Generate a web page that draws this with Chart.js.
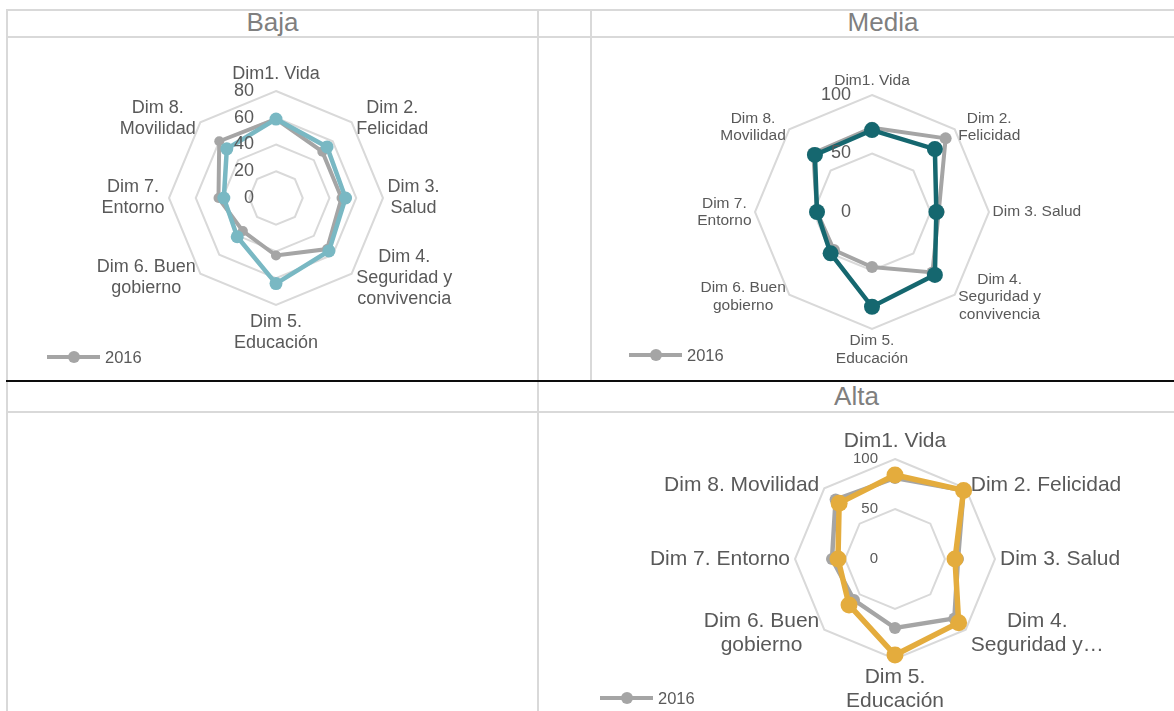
<!DOCTYPE html>
<html>
<head>
<meta charset="utf-8">
<script src="https://cdn.jsdelivr.net/npm/chart.js@4"></script>
<style>
  html, body { margin: 0; padding: 0; background: #fff; }
  body { width: 1174px; height: 711px; position: relative; overflow: hidden; font-family: "Liberation Sans", Arial, sans-serif; }
  .hl, .vl { position: absolute; background: #d9d9d9; }
  .hl { height: 2px; }
  .vl { width: 2px; }
  .black { position: absolute; height: 2px; background: #0d0d0d; }
  .head { position: absolute; text-align: center; font-size: 26px; line-height: 27px; color: #7f7f7f; }
  canvas { position: absolute; }
  .legend { position: absolute; height: 20px; display: flex; align-items: center; font-size: 16.5px; color: #595959; }
  .legend .mk { position: relative; width: 53px; height: 4px; background: #a5a5a5; margin-right: 5px; }
  .legend .mk::after { content: ""; position: absolute; left: 21px; top: -4px; width: 12px; height: 12px; border-radius: 50%; background: #a5a5a5; }
</style>
</head>
<body>
  <!-- table lines -->
  <div class="hl" style="left:6px;top:9px;width:1168px"></div>
  <div class="hl" style="left:6px;top:36px;width:1168px"></div>
  <div class="vl" style="left:6px;top:9px;height:702px"></div>
  <div class="vl" style="left:537px;top:9px;height:702px"></div>
  <div class="vl" style="left:590px;top:9px;height:372px"></div>
  <div class="black" style="left:6px;top:380px;width:1168px"></div>
  <div class="hl" style="left:6px;top:411px;width:1168px"></div>

  <div class="head" style="left:8px;top:9px;width:529px">Baja</div>
  <div class="head" style="left:592px;top:9px;width:582px">Media</div>
  <div class="head" style="left:539px;top:383px;width:635px">Alta</div>

  <canvas id="cBaja" width="528" height="340" style="left:8px;top:39px"></canvas>
  <canvas id="cMedia" width="581" height="340" style="left:593px;top:39px"></canvas>
  <canvas id="cAlta" width="634" height="297" style="left:540px;top:414px"></canvas>

  <div class="legend" style="left:47px;top:347px"><span class="mk"></span>2016</div>
  <div class="legend" style="left:629px;top:345px"><span class="mk"></span>2016</div>
  <div class="legend" style="left:600px;top:688px"><span class="mk"></span>2016</div>

<script>
const categories = ["Dim1. Vida", "Dim 2. Felicidad", "Dim 3. Salud", "Dim 4. Seguridad y convivencia",
  "Dim 5. Educación", "Dim 6. Buen gobierno", "Dim 7. Entorno", "Dim 8. Movilidad"];

// how each panel wraps the category names
const bajaLabels = [["Dim1. Vida"], ["Dim 2.", "Felicidad"], ["Dim 3.", "Salud"], ["Dim 4.", "Seguridad y", "convivencia"],
  ["Dim 5.", "Educación"], ["Dim 6. Buen", "gobierno"], ["Dim 7.", "Entorno"], ["Dim 8.", "Movilidad"]];
const mediaLabels = [["Dim1. Vida"], ["Dim 2.", "Felicidad"], ["Dim 3. Salud"], ["Dim 4.", "Seguridad y", "convivencia"],
  ["Dim 5.", "Educación"], ["Dim 6. Buen", "gobierno"], ["Dim 7.", "Entorno"], ["Dim 8.", "Movilidad"]];
const altaLabels = [["Dim1. Vida"], ["Dim 2. Felicidad"], ["Dim 3. Salud"], ["Dim 4.", "Seguridad y…"],
  ["Dim 5.", "Educación"], ["Dim 6. Buen", "gobierno"], ["Dim 7. Entorno"], ["Dim 8. Movilidad"]];

const baja2016 = [59, 49, 49, 54, 43, 35, 43, 60];
const bajaNow = [59, 54, 52, 56, 64, 41, 39, 52];
const media2016 = [72, 89, 57, 73, 47, 46, 47, 71];
const mediaNow = [70, 76, 55, 76, 81, 50, 47, 69];
const alta2016 = [81, 97, 63, 84, 69, 58, 63, 84];
const altaNow = [84, 97, 60, 90, 96, 65, 57, 79];

const bajaTicks = { max: 80, step: 20 };
const mediaTicks = { max: 100, step: 50 };
const altaTicks = { max: 100, step: 50 };

const gray = "#a5a5a5";
const textColor = "#595959";
const fontFamily = "'Liberation Sans', Arial, sans-serif";

// excel-style axis and category labels, placed with the scale's own geometry
const excelLabels = {
  id: "excelLabels",
  afterDatasetsDraw(chart, args, o) {
    const sc = chart.scales.r;
    const ctx = chart.ctx;
    ctx.save();
    ctx.fillStyle = textColor;
    ctx.textBaseline = "middle";

    ctx.font = o.tickSize + "px " + fontFamily;
    ctx.textAlign = "right";
    sc.ticks.forEach((t) => {
      const d = sc.getDistanceFromCenterForValue(t.value);
      ctx.fillText(t.label, sc.xCenter - o.tickGap, sc.yCenter - d);
    });

    ctx.font = o.size + "px " + fontFamily;
    ctx.textAlign = "center";
    o.lines.forEach((lines, i) => {
      const p = sc.getPointPosition(i, sc.drawingArea);
      const w = Math.max(...lines.map((s) => ctx.measureText(s).width));
      const h = lines.length * o.lh;
      let cx, top;
      if (i === 0) {
        cx = p.x; top = p.y - o.padTop - h;
      } else if (i === 4) {
        cx = p.x; top = p.y + o.padBottom;
      } else {
        cx = i < 4 ? p.x + o.padSide + w / 2 : p.x - o.padSide - w / 2;
        let dy = 0;
        if (i === 1 || i === 7) dy = -o.shift;
        if (i === 3 || i === 5) dy = o.shift;
        top = p.y - h / 2 + dy;
      }
      lines.forEach((s, k) => ctx.fillText(s, cx, top + o.lh * (k + 0.5)));
    });
    ctx.restore();
  }
};

function makeRadar(id, past, now, ticks, look) {
  return new Chart(document.getElementById(id), {
    type: "radar",
    data: {
      labels: categories,
      datasets: [
        {
          label: "",
          data: now,
          borderColor: look.color,
          backgroundColor: look.color,
          pointBackgroundColor: look.color,
          pointBorderColor: look.color,
          borderWidth: look.lw,
          pointRadius: look.pr,
          pointBorderWidth: 0,
          fill: false
        },
        {
          label: "2016",
          data: past,
          borderColor: gray,
          backgroundColor: gray,
          pointBackgroundColor: gray,
          pointBorderColor: gray,
          borderWidth: look.grayLw,
          pointRadius: look.grayPr,
          pointBorderWidth: 0,
          fill: false
        }
      ]
    },
    options: {
      responsive: false,
      animation: false,
      plugins: {
        legend: { display: false },
        tooltip: { enabled: false },
        excelLabels: look.labels
      },
      scales: {
        r: {
          min: 0,
          max: ticks.max,
          ticks: { stepSize: ticks.step, display: false },
          grid: { color: "#d9d9d9", lineWidth: 2 },
          angleLines: { display: false },
          pointLabels: { display: false },
          afterFit(s) {
            s.xCenter = look.cx;
            s.yCenter = look.cy;
            s.drawingArea = look.r;
          }
        }
      }
    },
    plugins: [excelLabels]
  });
}

makeRadar("cBaja", baja2016, bajaNow, bajaTicks, {
  color: "#79b8c3", lw: 4.5, pr: 6.5, grayLw: 4, grayPr: 5,
  cx: 268, cy: 159, r: 107,
  labels: { lines: bajaLabels, size: 18, lh: 21, padTop: 6.5, padBottom: 6.5, padSide: 4.5, shift: 4, tickSize: 18, tickGap: 22 }
});

makeRadar("cMedia", media2016, mediaNow, mediaTicks, {
  color: "#15676f", lw: 4.5, pr: 8, grayLw: 4, grayPr: 6,
  cx: 279, cy: 173, r: 117,
  labels: { lines: mediaLabels, size: 15.5, lh: 17.5, padTop: 6, padBottom: 3, padSide: 3.5, shift: 2, tickSize: 18, tickGap: 21 }
});

makeRadar("cAlta", alta2016, altaNow, altaTicks, {
  color: "#e4ac3d", lw: 5.5, pr: 8.5, grayLw: 4.5, grayPr: 6,
  cx: 355, cy: 145, r: 100,
  labels: { lines: altaLabels, size: 21, lh: 24, padTop: 6, padBottom: 6, padSide: 5, shift: 3.5, tickSize: 15, tickGap: 17 }
});
</script>
</body>
</html>
